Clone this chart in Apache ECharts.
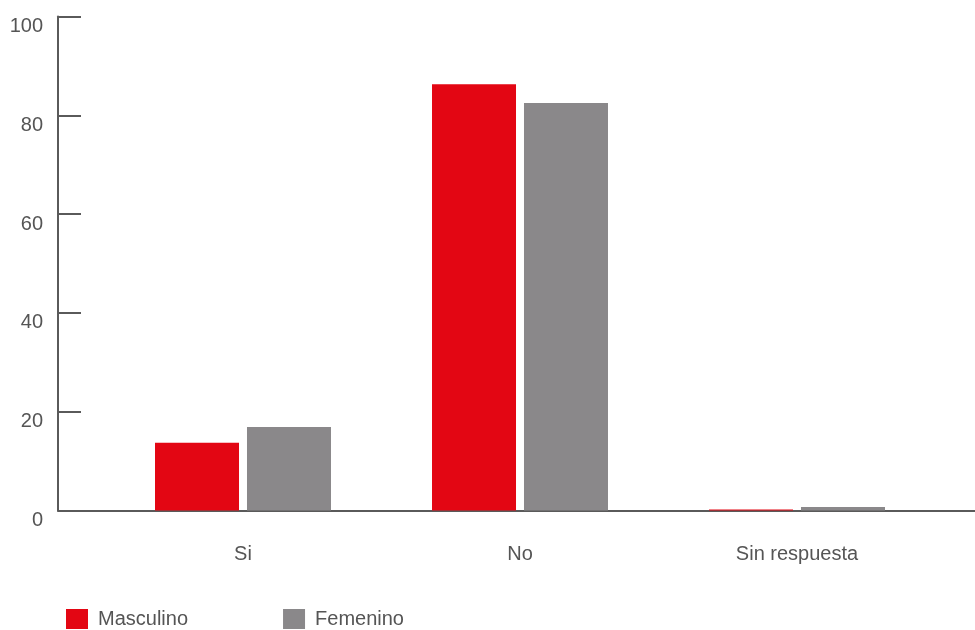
<!DOCTYPE html>
<html><head><meta charset="utf-8">
<script src="https://cdn.jsdelivr.net/npm/echarts@6/dist/echarts.min.js"></script>
<style>html,body{margin:0;padding:0;background:#fff}#c{width:975px;height:630px}</style>
</head><body><div id="c"></div>
<script>
const categories = ['Si', 'No', 'Sin respuesta'];
const masculino = [13.7, 86.3, 0.2];
const femenino = [16.9, 82.5, 0.7];
const seriesNames = ['Masculino', 'Femenino'];
const yTicks = [0, 20, 40, 60, 80, 100];

const font = 'Helvetica, Arial, "Liberation Sans", sans-serif';
const chart = echarts.init(document.getElementById('c'));
chart.setOption({
  animation: false,
  grid: [
    {left: 58, right: 0, top: 16.5, bottom: 119.5},
    {left: 104.5, width: 831, top: 16.5, bottom: 119.5}
  ],
  legend: {
    left: 61, top: 604, itemWidth: 22, itemHeight: 20, itemGap: 95,
    icon: 'rect',
    textStyle: {fontFamily: font, fontSize: 20, color: '#555', padding: [6, 0, 0, 5]},
    data: seriesNames
  },
  xAxis: [
    {type: 'value', gridIndex: 0, min: 0, max: 1,
     axisLine: {show: true, lineStyle: {color: '#5a5a5a', width: 2}},
     axisTick: {show: false}, axisLabel: {show: false}, splitLine: {show: false}},
    {type: 'category', gridIndex: 1, data: categories,
     axisLine: {show: false}, axisTick: {show: false},
     axisLabel: {margin: 34, fontFamily: font, fontSize: 20, color: '#555'}}
  ],
  yAxis: [
    {type: 'value', gridIndex: 0, min: yTicks[0], max: yTicks[yTicks.length-1], interval: 20,
     axisLine: {show: true, lineStyle: {color: '#5a5a5a', width: 2}},
     axisTick: {show: true, inside: true, length: 23, lineStyle: {color: '#5a5a5a', width: 2}},
     axisLabel: {margin: 15, fontFamily: font, fontSize: 20, color: '#555', verticalAlign: 'top'},
     splitLine: {show: false}},
    {type: 'value', gridIndex: 1, min: yTicks[0], max: yTicks[yTicks.length-1], interval: 20, show: false}
  ],
  series: [
    {name: seriesNames[0], type: 'bar', xAxisIndex: 1, yAxisIndex: 1, data: masculino,
     barWidth: 84, barGap: '9.5%', itemStyle: {color: '#E30613'}},
    {name: seriesNames[1], type: 'bar', xAxisIndex: 1, yAxisIndex: 1, data: femenino,
     barWidth: 84, itemStyle: {color: '#8A888A'}}
  ]
});
</script></body></html>
